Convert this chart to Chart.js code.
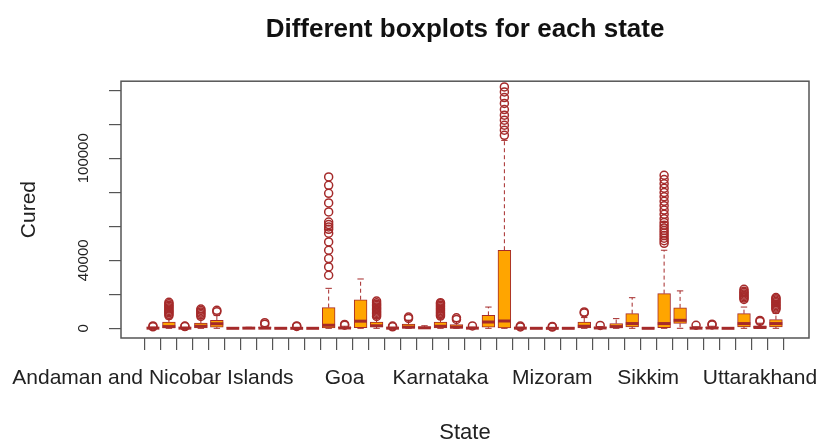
<!DOCTYPE html>
<html>
<head>
<meta charset="utf-8">
<script src="https://cdn.jsdelivr.net/npm/chart.js@4.4.0/dist/chart.umd.min.js"></script>
<style>
  html, body { margin: 0; padding: 0; background: #fff; }
</style>
</head>
<body>
<canvas id="boxChart" width="818" height="444"></canvas>
<script>
// one box per state, in the order they appear on the axis
const states = [
  'Andaman and Nicobar Islands', 'Andhra Pradesh', 'Arunachal Pradesh', 'Assam', 'Bihar',
  'Cases being reassigned to states', 'Chandigarh', 'Chhattisgarh', 'Dadra and Nagar Haveli',
  'Dadra and Nagar Haveli and Daman and Diu', 'Daman & Diu', 'Delhi', 'Goa', 'Gujarat', 'Haryana',
  'Himachal Pradesh', 'Jammu and Kashmir', 'Jharkhand', 'Karnataka', 'Kerala', 'Ladakh',
  'Madhya Pradesh', 'Maharashtra', 'Manipur', 'Meghalaya', 'Mizoram', 'Nagaland', 'Odisha',
  'Puducherry', 'Punjab', 'Rajasthan', 'Sikkim', 'Tamil Nadu', 'Telangana', 'Telengana',
  'Tripura', 'Unassigned', 'Uttar Pradesh', 'Uttarakhand', 'West Bengal'
];
// only these names fit under the axis
const shownLabels = ['Andaman and Nicobar Islands', 'Goa', 'Karnataka', 'Mizoram', 'Sikkim', 'Uttarakhand'];

const lowWhisker    = [0,0,0,0,0, 0,0,0,0,0, 0,0,0,0,0, 0,0,0,0,0, 0,0,0,0,0, 0,0,0,0,0, 0,0,0,0,0, 0,0,0,0,0];
const lowerQuartile = [0,300,0,200,700, 0,0,0,0,0, 0,300,0,400,800, 0,100,0,300,100, 0,600,300,0,0, 0,0,200,0,300, 800,0,400,2900,0, 0,0,800,100,800];
const medians       = [100,1000,100,1200,2700, 0,100,100,0,0, 0,1800,200,4200,1500, 100,700,300,1200,700, 100,3700,4300,100,0, 0,0,1200,200,1000, 2800,0,2800,4700,100, 200,0,2800,500,2800];
const upperQuartile = [300,3700,300,3000,4700, 200,300,400,100,200, 0,12200,600,16800,3700, 300,2500,900,3600,2200, 300,7600,45900,300,100, 100,100,3700,500,2800, 8600,100,20400,12000,400, 600,0,8600,1500,5100];
const highWhisker   = [700,5500,600,5500,7500, 400,600,900,300,500, 0,23500,1200,29000,6000, 600,4800,1500,6500,4000, 700,12500,110500,600,300, 300,200,6300,1000,5700, 18000,200,45900,22000,900, 1200,0,12500,3000,8800];

const outliers = [
  [900, 1400],
  [7400, 8200, 9100, 9800, 10500, 11300, 12100, 12900, 13600, 14400, 15300],
  [1000, 1300],
  [7000, 7900, 8800, 9600, 10500, 11300],
  [9800, 10600],
  [], [],
  [2400, 3300],
  [],
  [1100, 1400],
  [],
  [31200, 36100, 41000, 45900, 50800, 55900, 58200, 59600, 61000, 62500, 68400, 73700, 79400, 84100, 89000],
  [1800, 2300],
  [],
  [7000, 7800, 8600, 9400, 10200, 11000, 11800, 12600, 13400, 14200, 15000, 16000],
  [900, 1300],
  [5800, 6600],
  [],
  [7200, 8000, 8800, 9600, 10400, 11200, 12000, 12800, 13600, 14400, 15100],
  [5200, 6200],
  [1400],
  [],
  [113500, 116500, 119400, 122400, 125300, 128600, 132200, 135700, 139000, 141900],
  [800, 1300],
  [],
  [700, 1100],
  [],
  [9000, 9600],
  [1700],
  [], [], [],
  [50000, 51500, 53000, 54500, 56000, 57500, 59000, 60600, 62200, 64400, 67000, 69500, 72100, 74700, 77300, 79800, 82400, 85000, 87500, 90000],
  [],
  [1800],
  [2000, 2400],
  [],
  [17000, 17800, 18600, 19400, 20200, 21000, 21800, 22900],
  [4000, 4600],
  [11000, 11800, 12600, 13400, 14200, 15000, 15800, 16600, 17400, 18100]
];

const yTicks = [0, 20000, 40000, 60000, 80000, 100000, 120000, 140000];
const yLabelled = [0, 40000, 100000];

const boxFill = '#FFA500';
const boxLine = '#A52A2A';
const axisGrey = '#555';
const textColor = '#222';

Chart.defaults.font.family = "'Liberation Sans', Arial, sans-serif";

// whiskers, caps, medians and the frame round the plot
const boxParts = {
  id: 'boxParts',
  beforeDatasetsDraw(chart) {
    const {ctx, scales: {x, y}} = chart;
    ctx.save();
    ctx.strokeStyle = boxLine;
    ctx.lineWidth = 1;
    states.forEach((s, i) => {
      const px = x.getPixelForValue(i);
      ctx.setLineDash([4, 3]);
      ctx.beginPath();
      ctx.moveTo(px, y.getPixelForValue(upperQuartile[i]));
      ctx.lineTo(px, y.getPixelForValue(highWhisker[i]));
      ctx.moveTo(px, y.getPixelForValue(lowerQuartile[i]));
      ctx.lineTo(px, y.getPixelForValue(lowWhisker[i]));
      ctx.stroke();
      ctx.setLineDash([]);
      ctx.beginPath();
      ctx.moveTo(px - 3.2, y.getPixelForValue(highWhisker[i]));
      ctx.lineTo(px + 3.2, y.getPixelForValue(highWhisker[i]));
      ctx.moveTo(px - 3.2, y.getPixelForValue(lowWhisker[i]));
      ctx.lineTo(px + 3.2, y.getPixelForValue(lowWhisker[i]));
      ctx.stroke();
    });
    ctx.restore();
  },
  afterDatasetDraw(chart, args) {
    if (args.index !== 0) return;
    const {ctx, scales: {x, y}} = chart;
    ctx.save();
    ctx.strokeStyle = boxLine;
    ctx.lineWidth = 3;
    states.forEach((s, i) => {
      const px = x.getPixelForValue(i);
      const py = y.getPixelForValue(medians[i]);
      ctx.beginPath();
      ctx.moveTo(px - 6.4, py);
      ctx.lineTo(px + 6.4, py);
      ctx.stroke();
    });
    ctx.restore();
  },
  afterDraw(chart) {
    const {ctx, chartArea: a} = chart;
    ctx.save();
    ctx.strokeStyle = axisGrey;
    ctx.lineWidth = 1.5;
    ctx.strokeRect(a.left, a.top, a.right - a.left, a.bottom - a.top);
    ctx.restore();
  }
};

new Chart(document.getElementById('boxChart'), {
  type: 'bar',
  data: {
    datasets: [
      {
        type: 'bar',
        label: 'Cured',
        data: states.map((s, i) => ({x: i, y: [lowerQuartile[i], upperQuartile[i]]})),
        backgroundColor: boxFill,
        borderColor: boxLine,
        borderWidth: 1,
        borderSkipped: false,
        barThickness: 12.8
      },
      {
        type: 'scatter',
        label: 'Outliers',
        data: outliers.flatMap((vals, i) => vals.map(v => ({x: i, y: v}))),
        pointStyle: 'circle',
        pointRadius: 4,
        pointHoverRadius: 4,
        borderWidth: 1.5,
        borderColor: boxLine,
        backgroundColor: 'rgba(0,0,0,0)'
      }
    ]
  },
  options: {
    responsive: false,
    animation: false,
    layout: { padding: { right: 9 } },
    plugins: {
      legend: { display: false },
      tooltip: { enabled: false },
      title: {
        display: true,
        text: 'Different boxplots for each state',
        fullSize: false,
        color: '#111',
        font: { size: 26, weight: 'bold', lineHeight: 1.2 },
        padding: { top: 14, bottom: 36 }
      }
    },
    scales: {
      x: {
        type: 'linear',
        min: -2,
        max: 41.07,
        offset: false,
        afterBuildTicks: scale => { scale.ticks = states.map((s, i) => ({value: i})); },
        afterFit: scale => {
          scale.height = 106;
          // the long first name may hang past the plot edge, as in the original
          scale.paddingLeft = 0;
          scale.paddingRight = 0;
        },
        grid: { drawOnChartArea: false, tickLength: 12, tickColor: axisGrey, lineWidth: 1.2 },
        border: { display: false },
        ticks: {
          autoSkip: false,
          maxRotation: 0,
          minRotation: 0,
          padding: 16,
          color: textColor,
          font: { size: 21 },
          callback: (v, i) => shownLabels.includes(states[i]) ? states[i] : ''
        },
        title: {
          display: true,
          text: 'State',
          color: textColor,
          font: { size: 22, lineHeight: 1 },
          padding: { top: 0, bottom: 0 }
        }
      },
      y: {
        min: -5700,
        max: 145300,
        afterBuildTicks: scale => { scale.ticks = yTicks.map(v => ({value: v})); },
        afterFit: scale => { scale.width = 121; },
        grid: { drawOnChartArea: false, tickLength: 12, tickColor: axisGrey, lineWidth: 1.2 },
        border: { display: false },
        ticks: {
          autoSkip: false,
          minRotation: 90,
          maxRotation: 90,
          crossAlign: 'center',
          padding: 0,
          color: textColor,
          font: { size: 15 },
          callback: v => yLabelled.includes(v) ? String(v) : ''
        },
        title: {
          display: true,
          text: 'Cured',
          color: textColor,
          font: { size: 21, lineHeight: 1 },
          padding: { top: 19, bottom: 0 }
        }
      }
    }
  },
  plugins: [boxParts]
});
</script>
</body>
</html>
